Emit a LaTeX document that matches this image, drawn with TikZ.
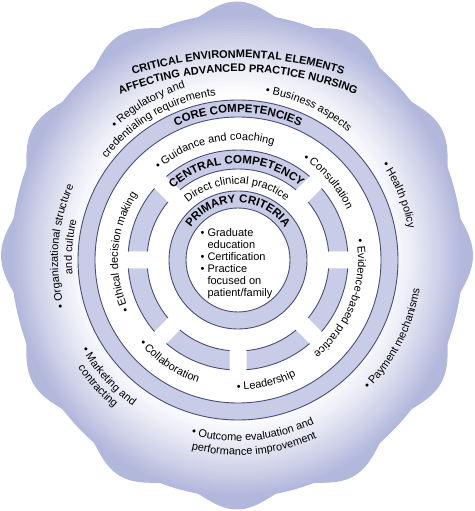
\documentclass[tikz,border=0pt]{standalone}
\usepackage{fontspec}
\setmainfont{Liberation Sans}
\usetikzlibrary{decorations.text}
\definecolor{bandfill}{RGB}{200,204,230}
\definecolor{ringcol}{RGB}{72,78,122}
\definecolor{blobedge}{RGB}{178,183,220}
\tikzstyle{band} = [fill=bandfill]
\tikzstyle{ringline} = [draw=ringcol, line width=0.9pt]
\newcommand{\arcfont}{\fontsize{11}{13}\selectfont}
\newcommand{\headfont}{\fontsize{11.5}{13}\selectfont\bfseries}
\newcommand{\titlefont}{\fontsize{11}{13}\selectfont\bfseries}
% text running clockwise (tops outward) / counter-clockwise (tops inward)
\newcommand{\cwtext}[4][\arcfont]{\path[decorate, decoration={text along path, text align=center, text={|#1|#4}}] ({#3+70}:#2) arc[start angle=#3+70, end angle=#3-70, radius=#2];}
\newcommand{\ccwtext}[4][\arcfont]{\path[decorate, decoration={text along path, text align=center, text={|#1|#4}}] ({#3-70}:#2) arc[start angle=#3-70, end angle=#3+70, radius=#2];}

\begin{document}
\begin{tikzpicture}[x=1pt, y=1pt]
\useasboundingbox (0,0) rectangle (474,511);
% --- wavy background, fading to white inside ---
\fill[blobedge] plot[domain=0:358, samples=180, smooth cycle] ({237+(228+8*cos(12*\x))*cos(\x)}, {255.5+(246+8*cos(12*\x))*sin(\x)});
\foreach \k in {0,...,30} {
  \pgfmathsetmacro{\rx}{226-2.6*\k}
  \pgfmathsetmacro{\ry}{1.07*\rx}
  \pgfmathsetmacro{\pc}{100*(1-\k/30)^1.3}
  \fill[blobedge!\pc!white] (237,255.5) ellipse[x radius=\rx pt, y radius=\ry pt];
}

\coordinate (ctr) at (238,251);
\begin{scope}[shift={(ctr)}]
% --- core competencies ring ---
\fill[band, even odd rule] (0,0) circle[radius=160pt] (0,0) circle[radius=143pt];
\draw[ringline] (0,0) circle[radius=160pt] (0,0) circle[radius=143pt];

% --- segmented ring (central competency on top) ---
\pgfmathsetmacro{\gapout}{asin(8.5/110)}
\pgfmathsetmacro{\gapin}{asin(8.5/91)}
\foreach \sa/\sb in {0/45, 45/135, 135/180, 180/225, 225/270, 270/315, 315/360} {
  \fill[band] ({\sa+\gapout}:110pt) arc[start angle=\sa+\gapout, end angle=\sb-\gapout, radius=110pt]
    -- ({\sb-\gapin}:91pt) arc[start angle=\sb-\gapin, end angle=\sa+\gapin, radius=91pt] -- cycle;
  \draw[ringline] ({\sa+\gapout}:110pt) arc[start angle=\sa+\gapout, end angle=\sb-\gapout, radius=110pt];
  \draw[ringline] ({\sa+\gapin}:91pt) arc[start angle=\sa+\gapin, end angle=\sb-\gapin, radius=91pt];
}

% --- primary criteria ring ---
\fill[band, even odd rule] (0,0) circle[radius=69pt] (0,0) circle[radius=52pt];
\draw[ringline] (0,0) circle[radius=69pt] (0,0) circle[radius=52pt];

% --- ring headings ---
\cwtext[\headfont]{147.5pt}{90}{CORE COMPETENCIES}
\cwtext[\headfont]{96.5pt}{91}{CENTRAL COMPETENCY}
\cwtext[\headfont]{57pt}{90}{PRIMARY CRITERIA}
\cwtext{76pt}{91}{Direct clinical practice}

% --- core competencies ---
\cwtext{120pt}{102}{• Guidance and coaching}
\cwtext{120pt}{41}{• Consultation}
\cwtext{120pt}{-20.6}{• Evidence-based practice}
\ccwtext{130pt}{283}{• Leadership}
\ccwtext{129pt}{236}{• Collaboration}
\cwtext{120pt}{176}{• Ethical decision making}

% --- environmental elements ---
\cwtext{180pt}{120}{• Regulatory and}
\cwtext{166pt}{120}{credentialing requirements}
\cwtext{169pt}{65}{• Business aspects}
\cwtext{173pt}{22}{• Health policy}
\ccwtext{184pt}{-27}{• Payment mechanisms}
\ccwtext{181pt}{275}{• Outcome evaluation and}
\ccwtext{195pt}{275}{performance improvement}
\ccwtext{180pt}{222}{• Marketing and}
\ccwtext{193pt}{222}{contracting}
\cwtext{180pt}{175.5}{• Organizational structure}
\cwtext{166pt}{175.5}{and culture}
\end{scope}

% --- title ---
\begin{scope}[shift={(238,121)}]
\cwtext[\titlefont]{332pt}{90}{CRITICAL ENVIRONMENTAL ELEMENTS}
\cwtext[\titlefont]{318pt}{90}{AFFECTING ADVANCED PRACTICE NURSING}
\end{scope}

% --- primary criteria list ---
\node (criteria) [font=\fontsize{11}{12}\selectfont, inner sep=0pt] at (236.5,247) {\begin{tabular}{@{}l@{\hspace{3pt}}l@{}}
•&Graduate\\&education\\•&Certification\\•&Practice\\&focused on\\&patient/family\end{tabular}};
\end{tikzpicture}
\end{document}
